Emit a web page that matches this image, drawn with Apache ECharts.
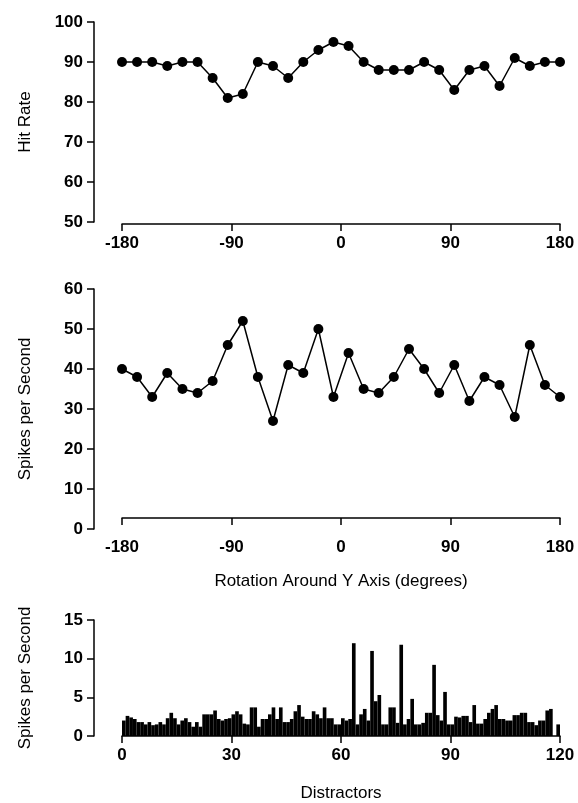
<!DOCTYPE html>
<html>
<head>
<meta charset="utf-8">
<script src="https://cdn.jsdelivr.net/npm/echarts@6/dist/echarts.min.js"></script>
<style>
html,body{margin:0;padding:0;background:#fff;}
#chart{width:578px;height:803px;}
</style>
</head>
<body>
<div id="chart"></div>
<script>
// Rotation angles (degrees) of the 30 views
const angles = [-180,-167.6,-155.2,-142.8,-130.3,-117.9,-105.5,-93.1,-80.7,-68.3,-55.9,-43.4,-31.0,-18.6,-6.2,6.2,18.6,31.0,43.4,55.9,68.3,80.7,93.1,105.5,117.9,130.3,142.8,155.2,167.6,180];
// Top panel: hit rate
const hitRate = [90,90,90,89,90,90,86,81,82,90,89,86,90,93,95,94,90,88,88,88,90,88,83,88,89,84,91,89,90,90];
// Middle panel: spikes per second vs rotation
const spikesRotation = [40,38,33,39,35,34,37,46,52,38,27,41,39,50,33,44,35,34,38,45,40,34,41,32,38,36,28,46,36,33];
// Bottom panel: responses to 120 distractors
const distractorSpikes = [2.0,2.6,2.4,2.2,1.8,1.8,1.5,1.8,1.4,1.5,1.8,1.5,2.3,3.0,2.3,1.5,2.0,2.3,1.8,1.2,
1.8,1.2,2.8,2.8,2.8,3.3,2.2,2.0,2.2,2.3,2.8,3.2,2.8,1.6,1.5,3.7,3.7,1.2,2.2,2.2,
2.8,3.7,2.2,3.7,1.8,1.8,2.2,3.2,4.0,2.5,2.2,2.2,3.2,2.8,2.3,3.7,2.3,2.3,1.5,1.5,
2.3,2.0,2.2,12.0,1.5,2.8,3.5,2.0,11.0,4.5,5.3,1.5,1.5,3.7,3.7,1.7,11.8,1.5,2.2,4.8,
1.5,1.5,1.7,3.0,3.0,9.2,2.7,2.0,5.7,1.5,1.5,2.5,2.4,2.6,2.6,1.8,4.0,1.6,1.6,2.2,
3.0,3.5,4.0,2.2,2.2,2.0,2.0,2.7,2.7,3.0,3.0,1.8,1.8,1.4,2.0,2.0,3.3,3.5,0,1.5];
const distractorIds = distractorSpikes.map((_, i) => String(i + 1));
// Tick labels
const rotTicks = [-180,-90,0,90,180];
const hitTicks = [50,60,70,80,90,100];
const spikeTicks = [0,10,20,30,40,50,60];
const distTicks = [0,30,60,90,120];
const barTicks = [0,5,10,15];

const FONT = '"Liberation Sans", Arial, Helvetica, sans-serif';
const black = '#000';
const axisLine = {show:true, onZero:false, lineStyle:{color:black, width:1.5}};
const axisTick = {show:true, length:7, lineStyle:{color:black, width:1.5}};
const tickLabel = {color:black, fontFamily:FONT, fontSize:17, fontWeight:'bold'};
const nameStyle = {color:black, fontFamily:FONT, fontSize:17};

const chart = echarts.init(document.getElementById('chart'), null, {renderer:'canvas'});
chart.setOption({
  animation:false,
  backgroundColor:'#fff',
  grid:[
    {left:122, right:18, top:22, height:200},
    {left:122, right:18, top:289, height:240},
    {left:122, right:18, top:620, height:120}
  ],
  xAxis:[
    {gridIndex:0, type:'value', position:'bottom', min:-180, max:180, interval:90, offset:2,
     axisLine, axisTick, splitLine:{show:false},
     axisLabel:{...tickLabel, margin:11, customValues:rotTicks}},
    {gridIndex:1, type:'value', position:'bottom', min:-180, max:180, interval:90, offset:-11,
     axisLine, axisTick, splitLine:{show:false},
     axisLabel:{...tickLabel, margin:21, customValues:rotTicks},
     name:'Rotation Around Y Axis (degrees)', nameLocation:'middle', nameGap:55, nameTextStyle:nameStyle},
    {gridIndex:2, type:'category', position:'bottom', data:distractorIds, show:false, boundaryGap:true},
    {gridIndex:2, type:'value', position:'bottom', min:0, max:120, interval:30,
     axisLine, axisTick, splitLine:{show:false},
     axisLabel:{...tickLabel, margin:11, customValues:distTicks},
     name:'Distractors', nameLocation:'middle', nameGap:49, nameTextStyle:nameStyle}
  ],
  yAxis:[
    {gridIndex:0, type:'value', position:'left', min:50, max:100, interval:10, offset:28,
     axisLine, axisTick, splitLine:{show:false},
     axisLabel:{...tickLabel, margin:11, customValues:hitTicks},
     name:'Hit Rate', nameLocation:'middle', nameGap:60, nameTextStyle:nameStyle},
    {gridIndex:1, type:'value', position:'left', min:0, max:60, interval:10, offset:28,
     axisLine, axisTick, splitLine:{show:false},
     axisLabel:{...tickLabel, margin:11, customValues:spikeTicks},
     name:'Spikes per Second', nameLocation:'middle', nameGap:60, nameTextStyle:nameStyle},
    {gridIndex:2, type:'value', position:'left', min:0, max:15, interval:5, offset:28,
     axisLine, axisTick, splitLine:{show:false},
     axisLabel:{...tickLabel, margin:11, customValues:barTicks},
     name:'Spikes per Second', nameLocation:'middle', nameGap:60, nameTextStyle:nameStyle}
  ],
  series:[
    {type:'line', xAxisIndex:0, yAxisIndex:0,
     data:angles.map((a,i)=>[a, hitRate[i]]),
     symbol:'circle', symbolSize:10, showAllSymbol:true,
     lineStyle:{color:black, width:1.5}, itemStyle:{color:black}},
    {type:'line', xAxisIndex:1, yAxisIndex:1,
     data:angles.map((a,i)=>[a, spikesRotation[i]]),
     symbol:'circle', symbolSize:10, showAllSymbol:true,
     lineStyle:{color:black, width:1.5}, itemStyle:{color:black}},
    {type:'bar', xAxisIndex:2, yAxisIndex:2,
     data:distractorSpikes, barCategoryGap:'0%',
     itemStyle:{color:black}}
  ]
});
</script>
</body>
</html>
